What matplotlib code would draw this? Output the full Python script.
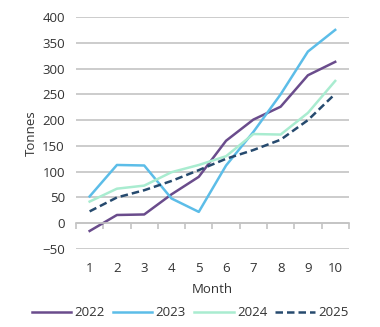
import numpy as np
import matplotlib
matplotlib.use("Agg")
import matplotlib.pyplot as plt

plt.rcParams['font.family'] = ['Open Sans', 'DejaVu Sans']

months = [1, 2, 3, 4, 5, 6, 7, 8, 9, 10]
y2022 = [-15, 16, 17, 56, 90, 160, 201, 226, 287, 313]
y2023 = [52, 113, 112, 48, 22, 112, 177, 250, 333, 375]
y2024 = [42, 67, 73, 99, 113, 130, 173, 172, 214, 276]
y2025 = [23, 50, 64, 82, 103, 125, 142, 162, 200, 251]
yticks = [-50, 0, 50, 100, 150, 200, 250, 300, 350, 400]

txt = '#333333'
grid_c = '#c4c4c4'

fig = plt.figure(figsize=(3.8, 3.27), dpi=100)
ax = fig.add_axes([0.2, 0.2385, 0.718, 0.7095])

for v in yticks:
    ax.axhline(v, color=grid_c, lw=1.2, zorder=0)

ax.plot(months, y2022, color='#6a4c8c', lw=1.8, label='2022')
ax.plot(months, y2023, color='#5cbde8', lw=1.8, label='2023')
ax.plot(months, y2024, color='#a9ecd0', lw=1.8, label='2024')
ax.plot(months, y2025, color='#264a6e', lw=1.8, ls=(0, (3, 1.6)), label='2025')

ax.set_xlim(0.5, 10.5)
ax.set_ylim(-50, 400)
ax.set_yticks(yticks)
ax.tick_params(axis='y', length=0, pad=8, labelsize=9.5, labelcolor=txt)

for s in ['top', 'right', 'left']:
    ax.spines[s].set_visible(False)
ax.spines['bottom'].set_position(('data', 0))
ax.spines['bottom'].set_color(grid_c)
ax.spines['bottom'].set_linewidth(1.2)
ax.set_xticks(months)
ax.set_xticklabels([])
ax.tick_params(axis='x', which='major', length=0)
ax.set_xticks(np.arange(0.5, 11, 1), minor=True)
ax.tick_params(axis='x', which='minor', length=4, width=1.2, color=grid_c, direction='out')

sec = ax.secondary_xaxis('bottom')
sec.set_xticks(months)
sec.set_xticklabels([str(m) for m in months])
sec.spines['bottom'].set_visible(False)
sec.tick_params(length=0, pad=9, labelsize=9.5, labelcolor=txt)
sec.set_xlabel('Month', fontsize=9.5, color=txt, labelpad=6)

ax.set_ylabel('Tonnes', fontsize=9.5, color=txt, labelpad=3)

fig.legend(loc='center', bbox_to_anchor=(0.5, 0.043), ncol=4, frameon=False,
           fontsize=9.5, handlelength=3.0, columnspacing=0.6, handletextpad=0.25,
           labelcolor=txt)

fig.savefig('out.png', dpi=100)
